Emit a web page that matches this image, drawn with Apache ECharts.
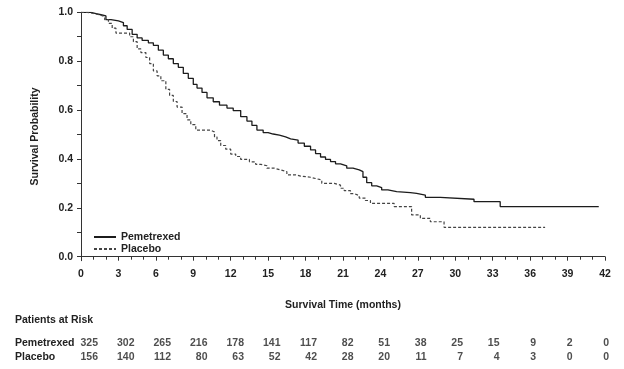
<!DOCTYPE html>
<html>
<head>
<meta charset="utf-8">
<script src="https://cdn.jsdelivr.net/npm/echarts@6/dist/echarts.min.js"></script>
<style>
html,body{margin:0;padding:0;background:#fff;}
#chart{width:624px;height:369px;}
</style>
</head>
<body>
<div id="chart"></div>
<script>
// ---- Data ----
const pemetrexedTime = [0,0.8,1.2,1.6,2.0,2.4,3.0,3.4,3.7,4.1,4.5,4.9,5.4,5.8,6.2,6.6,7.0,7.4,7.8,8.2,8.6,9.0,9.3,9.7,10.1,10.6,11.1,11.7,12.2,12.8,13.3,13.7,14.1,14.6,15.0,15.4,15.9,16.4,16.8,17.4,17.9,18.4,18.8,19.2,19.6,20.0,20.4,20.8,21.3,21.8,22.3,22.6,22.9,23.3,23.7,24.1,24.6,25.3,26.4,26.9,27.6,28.8,31.5,33.6,41.5];
const pemetrexedSurv = [1.0,0.995,0.99,0.985,0.97,0.965,0.958,0.945,0.93,0.91,0.895,0.885,0.875,0.865,0.845,0.825,0.81,0.79,0.775,0.75,0.73,0.705,0.69,0.672,0.65,0.634,0.62,0.608,0.598,0.573,0.555,0.537,0.518,0.508,0.502,0.497,0.49,0.482,0.477,0.465,0.452,0.437,0.422,0.408,0.398,0.389,0.38,0.372,0.362,0.355,0.348,0.325,0.303,0.29,0.283,0.273,0.266,0.262,0.259,0.252,0.243,0.235,0.225,0.205,0.205];

const placeboTime = [0,0.5,1.0,1.5,1.9,2.2,2.5,2.8,3.9,4.2,4.5,4.8,5.2,5.5,5.8,6.1,6.4,6.8,7.1,7.4,7.7,8.1,8.5,8.8,9.2,10.4,10.7,10.9,11.2,11.6,12.0,12.4,12.8,13.5,14.0,14.4,14.9,15.5,16.0,16.5,17.2,17.6,18.4,18.8,19.3,20.3,20.8,21.1,21.6,21.9,22.3,22.8,23.2,25.1,26.5,27.2,28.0,29.1,37.2];
const placeboSurv = [1.0,0.995,0.99,0.982,0.97,0.955,0.935,0.915,0.9,0.88,0.85,0.835,0.815,0.79,0.76,0.74,0.72,0.685,0.66,0.635,0.612,0.585,0.56,0.54,0.518,0.51,0.49,0.475,0.455,0.44,0.42,0.41,0.398,0.388,0.378,0.372,0.362,0.355,0.348,0.335,0.33,0.325,0.32,0.314,0.3,0.293,0.28,0.27,0.258,0.25,0.24,0.23,0.218,0.205,0.171,0.157,0.143,0.12,0.12];

const riskMonths = [0,3,6,9,12,15,18,21,24,27,30,33,36,39,42];
const pemetrexedAtRisk = [325,302,265,216,178,141,117,82,51,38,25,15,9,2,0];
const placeboAtRisk = [156,140,112,80,63,52,42,28,20,11,7,4,3,0,0];

const yTickValues = [0,0.1,0.2,0.3,0.4,0.5,0.6,0.7,0.8,0.9,1.0];
const yLabelValues = [0,0.2,0.4,0.6,0.8,1.0];
const seriesNames = ['Pemetrexed','Placebo'];

// ---- Build ----
const FONT = "'Liberation Sans', Arial, sans-serif";
const TXT = '#222';
const zip = (a,b) => a.map((v,i)=>[v,b[i]]);

const chart = echarts.init(document.getElementById('chart'), null, {renderer:'canvas'});
const riskLabel = {show:true,position:'inside',align:'right',verticalAlign:'middle',
  formatter:p=>String(p.value[2]),
  fontFamily:FONT,fontSize:10.5,fontWeight:'bold',color:TXT};
const option = {
  animation:false,
  backgroundColor:'#fff',
  textStyle:{fontFamily:FONT},
  title:{
    text:'Patients at Risk', left:15, top:315, padding:0,
    textStyle:{fontFamily:FONT,fontSize:10.5,fontWeight:'bold',color:TXT}
  },
  legend:{
    data:seriesNames, orient:'vertical', left:93, top:231.5, padding:0,
    itemWidth:22, itemHeight:10, itemGap:1, itemStyle:{opacity:0},
    textStyle:{fontFamily:FONT,fontSize:10.5,fontWeight:'bold',color:TXT}
  },
  grid:[
    {left:81, right:19, top:12.3, bottom:108.3},
    {left:98, right:15, top:336, height:28}
  ],
  xAxis:[
    {
      type:'value', gridIndex:0, min:0, max:42, interval:3,
      name:'Survival Time (months)', nameLocation:'middle', nameGap:39,
      nameTextStyle:{fontFamily:FONT,fontSize:10.5,fontWeight:'bold',color:TXT},
      axisLine:{lineStyle:{color:'#333',width:1}},
      axisTick:{show:true,length:4,lineStyle:{color:'#333'}},
      minorTick:{show:true,splitNumber:3,length:3,lineStyle:{color:'#333'}},
      splitLine:{show:false},
      axisLabel:{fontFamily:FONT,fontSize:10.5,fontWeight:'bold',color:TXT,margin:8}
    },
    {
      type:'value', gridIndex:1, min:0, max:42, show:false
    }
  ],
  yAxis:[
    {
      type:'value', gridIndex:0, min:-0.0164, max:1,
      name:'Survival Probability', nameLocation:'middle', nameGap:40,
      nameTextStyle:{fontFamily:FONT,fontSize:10.5,fontWeight:'bold',color:TXT},
      axisLine:{show:true,lineStyle:{color:'#333',width:1}},
      axisTick:{show:true,length:4,lineStyle:{color:'#333'},customValues:yTickValues},
      splitLine:{show:false},
      axisLabel:{fontFamily:FONT,fontSize:10.5,fontWeight:'bold',color:TXT,margin:8,
        customValues:yLabelValues, formatter:v=>Number(v).toFixed(1)}
    },
    {
      type:'category', gridIndex:1, data:seriesNames, inverse:true,
      axisLine:{show:false}, axisTick:{show:false}, splitLine:{show:false},
      axisLabel:{fontFamily:FONT,fontSize:10.5,fontWeight:'bold',color:TXT,
        align:'left', margin:83, interval:0, hideOverlap:false}
    }
  ],
  series:[
    {
      name:'Pemetrexed', type:'line', step:'end', xAxisIndex:0, yAxisIndex:0,
      symbol:'none', showSymbol:false,
      data:zip(pemetrexedTime,pemetrexedSurv),
      lineStyle:{color:'#1c1c1c',width:1.3,type:'solid'},
      itemStyle:{color:'#1c1c1c'}
    },
    {
      name:'Placebo', type:'line', step:'end', xAxisIndex:0, yAxisIndex:0,
      symbol:'none', showSymbol:false,
      data:zip(placeboTime,placeboSurv),
      lineStyle:{color:'#444',width:1.2,type:[3,2]},
      itemStyle:{color:'#444'}
    },
    {
      type:'scatter', xAxisIndex:1, yAxisIndex:1, symbolSize:0, silent:true,
      data:riskMonths.map((m,i)=>[m,'Pemetrexed',pemetrexedAtRisk[i]]),
      label:riskLabel
    },
    {
      type:'scatter', xAxisIndex:1, yAxisIndex:1, symbolSize:0, silent:true,
      data:riskMonths.map((m,i)=>[m,'Placebo',placeboAtRisk[i]]),
      label:riskLabel
    }
  ]
};
chart.setOption(option);
</script>
</body>
</html>
